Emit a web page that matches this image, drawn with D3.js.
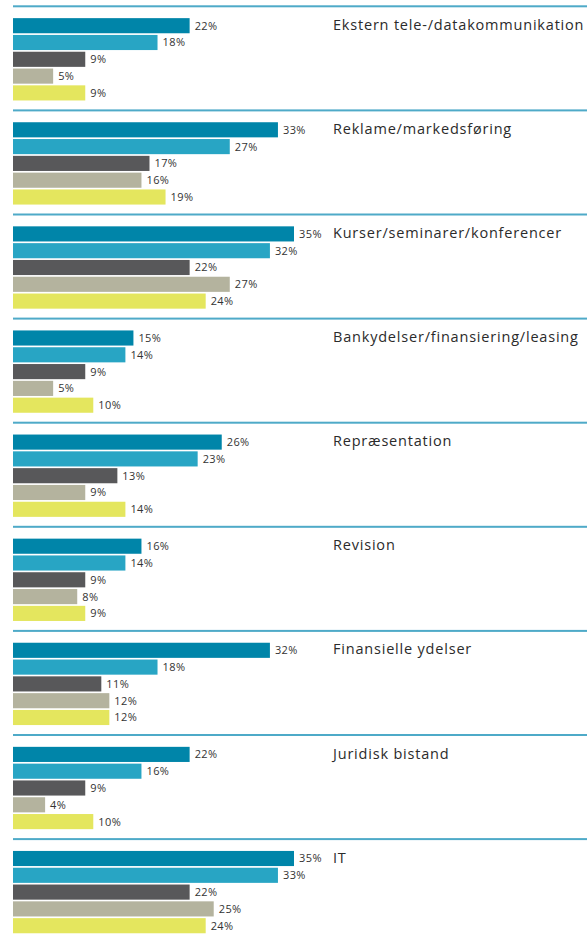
<!DOCTYPE html>
<html>
<head>
<meta charset="utf-8">
<script src="https://cdn.jsdelivr.net/npm/d3@7"></script>
<style>
  body { margin: 0; background: #fff; }
  svg { display: block; }
  .cat { font-family: "Open Sans", sans-serif; font-size: 14.5px; letter-spacing: 0.8px; fill: #2b2b2b; }
  .val { font-family: "Open Sans", sans-serif; font-size: 11px; letter-spacing: 0.4px; fill: #333; }
</style>
</head>
<body>
<div class="chart"></div>
<script>
// data ------------------
const categories = [
    "Ekstern tele-/datakommunikation",
    "Reklame/markedsføring",
    "Kurser/seminarer/konferencer",
    "Bankydelser/finansiering/leasing",
    "Repræsentation",
    "Revision",
    "Finansielle ydelser",
    "Juridisk bistand",
    "IT"
]
const series = ["s1", "s2", "s3", "s4", "s5"]
const s1 = [22, 33, 35, 15, 26, 16, 32, 22, 35]
const s2 = [18, 27, 32, 14, 23, 14, 18, 16, 33]
const s3 = [9, 17, 22, 9, 13, 9, 11, 9, 22]
const s4 = [5, 16, 27, 5, 9, 8, 12, 4, 25]
const s5 = [9, 19, 24, 10, 14, 9, 12, 10, 24]
const colours = ["#0085a9", "#28a5c4", "#58585a", "#b4b39e", "#e4e65e"]

const rows = categories.map((c, i) => ({
    name: c,
    values: [s1, s2, s3, s4, s5].map((s, j) => ({ key: series[j], v: s[i], c: colours[j] }))
}))

// config
const w = 587
const h = 934
const left = 13
const groupStep = 104.1
const top0 = 5.3

const svg = d3.select('.chart')
    .append('svg')
    .attr('width', w)
    .attr('height', h)

const x = d3.scaleLinear()
    .domain([0, 35])
    .range([left, left + 281])

const yGroup = d3.scaleBand()
    .domain(categories)
    .range([top0, top0 + groupStep * categories.length])
    .paddingInner(0)

const yBar = d3.scaleBand()
    .domain(series)
    .range([12, 12 + 16.8 * 5])
    .paddingInner(0.1)
    .paddingOuter(0.05)

const groups = svg.selectAll('g.group')
    .data(rows)
    .join('g')
    .attr('class', 'group')
    .attr('transform', d => 'translate(0,' + yGroup(d.name) + ')')

// separator
groups.append('rect')
    .attr('x', left)
    .attr('y', 0)
    .attr('width', w - left)
    .attr('height', 2)
    .attr('fill', '#4eaac8')

// category label
groups.append('text')
    .attr('class', 'cat')
    .attr('x', 333)
    .attr('y', 24.5)
    .text(d => d.name)

// bars
groups.selectAll('rect.bar')
    .data(d => d.values)
    .join('rect')
    .attr('class', 'bar')
    .attr('x', x(0))
    .attr('y', d => yBar(d.key))
    .attr('width', d => x(d.v) - x(0))
    .attr('height', yBar.bandwidth())
    .attr('fill', d => d.c)

groups.selectAll('text.val')
    .data(d => d.values)
    .join('text')
    .attr('class', 'val')
    .attr('x', d => x(d.v) + 5)
    .attr('y', d => yBar(d.key) + yBar.bandwidth() / 2)
    .attr('dy', '0.36em')
    .text(d => d.v + '%')
</script>
</body>
</html>
